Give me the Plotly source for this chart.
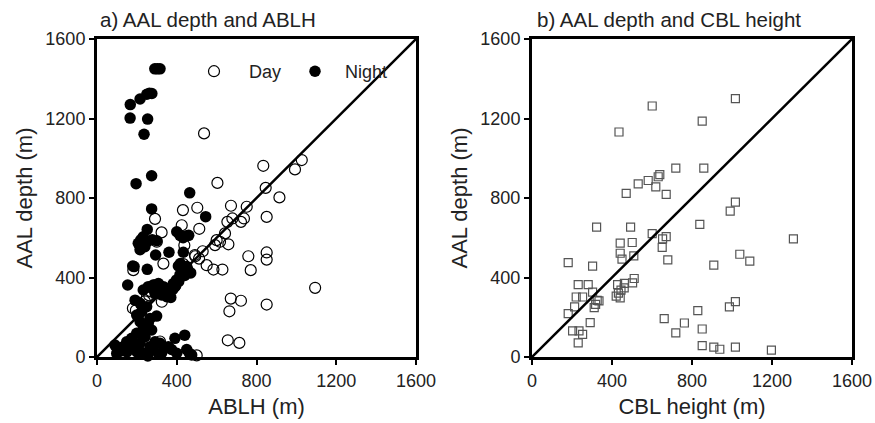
import plotly.graph_objects as go

# ---------- data ----------
ticks = [0, 400, 800, 1200, 1600]

day_ablh = [537, 604, 834, 846, 993, 1027, 915, 851, 672, 751, 679, 722, 654, 737, 642, 600, 617, 659, 592,
            431, 503, 425, 513, 438, 530, 493, 512, 550, 584, 629, 759, 771, 851, 851, 291, 324, 300, 333,
            182, 1094, 671, 722, 664, 851, 656, 714, 500, 180, 195, 316, 325, 491, 433, 250, 270, 290, 240, 262]
day_aal = [1125, 876, 962, 851, 944, 991, 803, 705, 761, 756, 697, 680, 680, 697, 622, 588, 580, 567, 563,
           739, 751, 663, 645, 562, 532, 507, 495, 462, 440, 440, 507, 437, 526, 490, 695, 627, 580, 470,
           437, 348, 294, 283, 230, 264, 84, 71, 8, 245, 235, 78, 278, 513, 467, 300, 330, 360, 280, 310]

night_ablh = [290, 303, 316, 167, 166, 216, 250, 263, 275, 254, 236, 196, 274, 274, 465, 545,
              252, 232, 207, 220, 252, 277, 300, 216, 240, 400, 416, 450, 432, 460, 361, 294, 433,
              179, 252, 186, 408, 430, 455, 418, 470, 440, 154,
              199, 216, 232, 257, 274, 241, 199, 174, 266, 299, 224, 249, 216, 191, 232, 257, 282, 308,
              333, 350, 324, 291, 366, 391, 399, 416, 433, 450, 383, 380, 395, 410, 370,
              90, 132, 149, 166, 182, 199, 216, 249, 266, 291, 316, 283, 324, 391, 358, 374, 400, 450,
              463, 475, 99, 120, 150, 230, 200, 255, 310, 440, 235, 270]
night_aal = [1450, 1450, 1450, 1270, 1202, 1298, 1322, 1327, 1326, 1197, 1121, 872, 912, 745, 826, 706,
             642, 605, 572, 590, 580, 590, 585, 540, 555, 630, 612, 610, 600, 612, 527, 513, 527,
             458, 441, 455, 458, 430, 440, 470, 423, 410, 362,
             211, 178, 144, 169, 136, 102, 119, 94, 194, 206, 228, 253, 270, 286, 337, 354, 362, 370,
             354, 303, 312, 320, 337, 354, 388, 413, 438, 455, 370, 340, 360, 380, 300,
             60, 52, 77, 52, 69, 44, 69, 19, 52, 77, 69, 35, 19, 94, 52, 38, 19, 38,
             19, 10, 18, 30, 25, 20, 25, 5, 15, 110, 120]

cbl = [601, 1017, 435, 851, 719, 859, 639, 631, 581, 531, 619, 471, 671, 1017, 991, 323, 493, 839, 1307,
       601, 653, 671, 651, 441, 441, 450, 501, 509, 679, 181, 303, 909, 1039, 1089, 231, 281, 428, 461,
       511, 503, 221, 253, 303, 326, 318, 421, 441, 445, 213, 181, 311, 335, 291, 203, 235, 253, 231,
       661, 719, 762, 829, 851, 987, 1017, 851, 909, 939, 1017, 1197, 462, 432]
cbl_aal = [1263, 1300, 1132, 1187, 950, 950, 918, 907, 888, 871, 856, 823, 818, 779, 734, 653, 653, 667, 594,
           621, 594, 606, 552, 573, 522, 492, 576, 509, 489, 475, 457, 462, 517, 482, 364, 364, 364, 348,
           395, 373, 302, 302, 326, 285, 265, 306, 297, 336, 252, 218, 248, 282, 173, 131, 131, 114, 71,
           193, 121, 171, 233, 141, 252, 279, 57, 50, 39, 50, 35, 370, 321]

one_to_one = [0, 1600]

# ---------- figure ----------
fig = go.Figure()

fig.add_trace(go.Scatter(x=day_ablh, y=day_aal, mode="markers", name="\u00a0\u00a0\u00a0Day",
                         marker=dict(symbol="circle-open", size=11, color="black", line=dict(width=1.2)),
                         cliponaxis=False, xaxis="x", yaxis="y"))
fig.add_trace(go.Scatter(x=night_ablh, y=night_aal, mode="markers", name="\u00a0\u00a0Night",
                         marker=dict(symbol="circle", size=11.5, color="black"),
                         cliponaxis=False, xaxis="x", yaxis="y"))
fig.add_trace(go.Scatter(x=one_to_one, y=one_to_one, mode="lines", showlegend=False,
                         line=dict(color="black", width=2.5), xaxis="x", yaxis="y"))

fig.add_trace(go.Scatter(x=cbl, y=cbl_aal, mode="markers", showlegend=False,
                         marker=dict(symbol="square-open", size=8, color="#555555", line=dict(width=1.2)),
                         cliponaxis=False, xaxis="x2", yaxis="y2"))
fig.add_trace(go.Scatter(x=one_to_one, y=one_to_one, mode="lines", showlegend=False,
                         line=dict(color="black", width=2.5), xaxis="x2", yaxis="y2"))

W, H = 875, 423
ydom = [1 - 357 / H, 1 - 39 / H]

axis_common = dict(range=[0, 1600], tickvals=ticks, showgrid=False, zeroline=False,
                   showline=True, linewidth=3, linecolor="black", mirror=True,
                   ticks="outside", ticklen=5, tickwidth=2, tickcolor="black", automargin=False,
                   tickfont=dict(size=18, color="#222222"))

fig.update_layout(
    width=W, height=H,
    margin=dict(l=0, r=0, t=0, b=0),
    paper_bgcolor="white", plot_bgcolor="white",
    font=dict(family="Arial, Liberation Sans, sans-serif", color="#222222"),
    xaxis=dict(domain=[97 / W, 416 / W], anchor="y",
               title=dict(text="ABLH (m)", font=dict(size=22), standoff=10), **axis_common),
    yaxis=dict(domain=ydom, anchor="x",
               title=dict(text="AAL depth (m)", font=dict(size=22), standoff=7), **axis_common),
    xaxis2=dict(domain=[532 / W, 852 / W], anchor="y2",
                title=dict(text="CBL height (m)", font=dict(size=22), standoff=10), **axis_common),
    yaxis2=dict(domain=ydom, anchor="x2",
                title=dict(text="AAL depth (m)", font=dict(size=22), standoff=7), **axis_common),
    showlegend=True,
    legend=dict(orientation="h", x=194 / W, xanchor="left", y=1 - 53 / H, yanchor="top",
                bgcolor="rgba(0,0,0,0)", font=dict(size=18, color="#222222"),
                entrywidth=56, entrywidthmode="pixels", itemsizing="trace"),
    annotations=[
        dict(text="a) AAL depth and ABLH", x=98 / W, y=1 - 20 / H, xref="paper", yref="paper",
             xanchor="left", yanchor="middle", showarrow=False, font=dict(size=20.5, color="#222222")),
        dict(text="b) AAL depth and CBL height", x=535 / W, y=1 - 20 / H, xref="paper", yref="paper",
             xanchor="left", yanchor="middle", showarrow=False, font=dict(size=20.5, color="#222222")),
    ],
)

fig.write_html("out.html")
